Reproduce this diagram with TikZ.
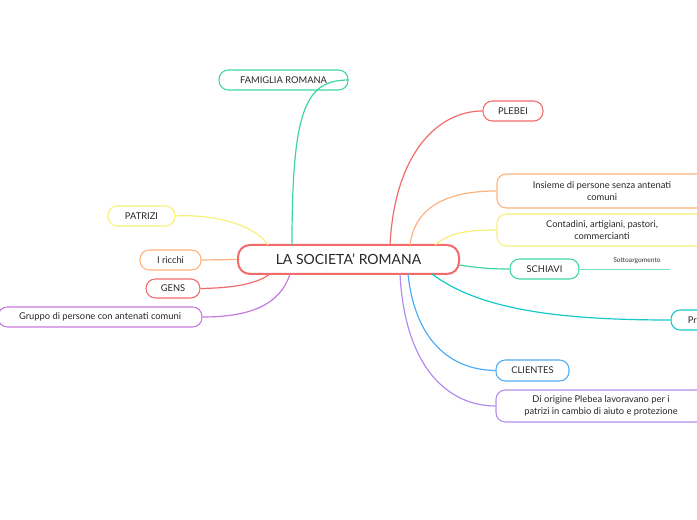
\documentclass[tikz,border=0pt]{standalone}
\usepackage{fontspec}
\setmainfont{Lato}
\definecolor{cred}{HTML}{F26B6B}
\definecolor{cgreen}{HTML}{3DD6A3}
\definecolor{corange}{HTML}{FDB27F}
\definecolor{cyellow}{HTML}{F8EE7A}
\definecolor{ccyan}{HTML}{16C8C8}
\definecolor{cblue}{HTML}{4DAEF5}
\definecolor{cpurple}{HTML}{B08CF0}
\definecolor{cpink}{HTML}{C87ADF}
\tikzset{
 box/.style={draw=#1, rounded corners=7pt, line width=0.8pt, inner sep=0pt, align=center, font=\fontsize{7}{8.5}\selectfont, text=black!85},
 ln/.style={draw=#1, line width=0.9pt}
}
\begin{document}
\begin{tikzpicture}[x=0.75pt,y=-0.75pt]
\useasboundingbox (0,0) rectangle (697,520);
\clip (0,0) rectangle (697,520);
\node[box=cred, line width=1.5pt, minimum width=221*0.75pt, minimum height=29*0.75pt, rounded corners=9pt, font=\fontsize{10.5}{12}\selectfont] (c) at (348.5,259.5) {LA SOCIETA' ROMANA};
\node[box=cgreen, minimum width=129*0.75pt, minimum height=20*0.75pt] (fam) at (283.5,80) {FAMIGLIA ROMANA};
\node[box=cred, minimum width=60*0.75pt, minimum height=20*0.75pt] (ple) at (513,111) {PLEBEI};
\node[box=corange, minimum width=210*0.75pt, minimum height=34*0.75pt] (ins) at (602,191) {Insieme di persone senza antenati\\comuni};
\node[box=cyellow, minimum width=210*0.75pt, minimum height=32*0.75pt] (con) at (602,230) {Contadini, artigiani, pastori,\\commercianti};
\node[box=cgreen, minimum width=69*0.75pt, minimum height=20*0.75pt] (sch) at (544.5,269) {SCHIAVI};
\coordinate (sot) at (670,269);
\node[font=\fontsize{5}{6}\selectfont, text=black!80] (sotl) at (637,261) {Sottoargomento};
\node[box=ccyan, minimum width=60*0.75pt, minimum height=20*0.75pt, text width=45*0.75pt, align=left] (pri) at (701,320) {\hspace*{7pt}Pri};
\node[box=cblue, minimum width=73*0.75pt, minimum height=21*0.75pt] (cli) at (532.5,370.5) {CLIENTES};
\node[box=cpurple, minimum width=210*0.75pt, minimum height=32*0.75pt] (dio) at (601,406) {Di origine Plebea lavoravano per i\\patrizi in cambio di aiuto e protezione};
\node[box=cyellow, minimum width=67*0.75pt, minimum height=20*0.75pt] (pat) at (141.5,216) {PATRIZI};
\node[box=corange, minimum width=61*0.75pt, minimum height=20*0.75pt] (ric) at (170.5,260) {I ricchi};
\node[box=cred, minimum width=54*0.75pt, minimum height=19*0.75pt] (gen) at (173,288.5) {GENS};
\node[box=cpink, minimum width=204*0.75pt, minimum height=20*0.75pt] (gru) at (100,317) {Gruppo di persone con antenati comuni};
% connectors
\draw[ln=cgreen] (292,245) .. controls (292,110) and (305,80) .. (fam.east);
\draw[ln=cred] (390,245) .. controls (395,150) and (440,111) .. (ple.west);
\draw[ln=corange] (410,245) .. controls (415,205) and (450,191) .. (ins.west);
\draw[ln=cyellow] (435,245) .. controls (450,232) and (470,230) .. (con.west);
\draw[ln=cgreen] (459,265) .. controls (480,268) and (490,269) .. (sch.west);
\draw[ln=cgreen!70, line width=0.7pt] (sch.east) -- (sot);
\draw[ln=ccyan] (432,274) .. controls (480,310) and (560,320) .. (pri.west);
\draw[ln=cblue] (408,274) .. controls (415,340) and (450,370) .. (cli.west);
\draw[ln=cpurple] (400,274) .. controls (405,370) and (450,406) .. (dio.west);
\draw[ln=cyellow] (268,245) .. controls (255,225) and (215,214) .. (pat.east);
\draw[ln=corange] (c.west) -- (ric.east);
\draw[ln=cred] (270,274) .. controls (255,285) and (230,288) .. (gen.east);
\draw[ln=cpink] (290,274) .. controls (280,305) and (250,317) .. (gru.east);
\end{tikzpicture}
\end{document}
